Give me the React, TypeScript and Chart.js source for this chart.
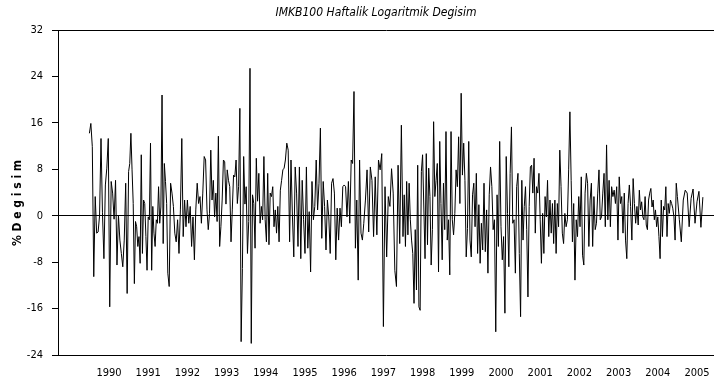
import React, { useEffect, useRef } from "react";
import { Chart, registerables } from "chart.js";

Chart.register(...registerables);

const TITLE = "IMKB100 Haftalik Logaritmik Degisim";
const Y_TITLE = "% D e g i s i m";
const yTicks = [32, 24, 16, 8, 0, -8, -16, -24];
const yearLabels = [1990, 1991, 1992, 1993, 1994, 1995, 1996, 1997, 1998, 1999, 2000, 2001, 2002, 2003, 2004, 2005];

// weekly log changes (%) per year
const w1990 = [14.2, 15.9, 11.9, -10.5, 3.3, -3, -2.8, 0, 13.3, 0.5, -7.4, 5.3, 8.2, 13.3, -15.7, 5.9, 3.9, -0.6, 6.1, -8.5, 0.1, -4.2, -6.5, -8.8, -4.2, 5.6, -13.4];
const w1991 = [7.6, 9.0, 14.2, 7.9, 2.1, -11.7, -1, -1.9, -5.3, -3.6, -8.2, 10.5, -6.5, 2.7, 2.1, -3.6, -9.4, -0.2, -0.7, 12.5, -9.4, 1.6, -3, -5.3, -0.7, -1.3, 5, -1.3, 1.5, 20.8, -4.8, 9, 5.9, 2.1];
const w1992 = [-9.9, -12.2, 5.6, 3.9, 1.6, -3, -4.5, -0.7, -6.5, 1, 13.3, -3.6, 2.7, -1.9, 2.7, -1.3, 1.6, -5.3, -0.2, -7.6, 1, 5.6, 2.1, 3.3, -1.3, 3.9, 10.2, 9.6];
const w1993 = [1, -2.4, 0.4, 11.3, 2.7, 6.1, -0.2, 3.9, -1, 13.7, -5.3, -1.9, 2.7, 9.6, 9.3, 2, 7.9, 6.1, 5, -4.5, 1, 7, 6.7, 9.6, 2.1, 5, 18.5, -21.7, -9.1, 10.2, 2];
const w1994 = [5, -6.5, -1, 25.4, -22, 3.6, 2.1, -5.6, 9.9, 2.5, 7.3, -1.3, 1.6, -0.7, 10.2, -0.7, -4.5, 7.3, -5, 3.9, 3.3, 5, -1.9, 1, -3, 1.6, -4.5, 4.4, 6.1, 7.9, 8.2];
const w1995 = [9.6, 12.5, 11.3, -4.5, 9.6, 0.1, -7.1, 8.4, 3.9, -5.3, 8.4, -7.4, 6.1, -0.7, -6.5, 8.4, -5.6, 0.7, -9.7, 5.9, -0.7, 1.6, 9.6, 1, 5.6, 15.1, -3.9, 5.9];
const w1996 = [1.6, -5.9, 2.7, -0.2, -6.5, 5.6, 6.4, 3.9, -7.6, 1.3, -4.2, 1.3, -1.9, 5, 5.3, 5, -0.2, 5.9, -1.3, 9.6, 9, 21.4, -5.6, 2.7, -11.1, 9.6, -3, -4.2];
const w1997 = [-1.3, 2.7, 7.9, -2.8, 8.4, 6.1, -3.6, 6.7, -3.3, 9.6, 7.9, 10.7, -19.1, 5, -7.1, 3.3, 1.6, 8.1, 3.9, -9.4, -12.2, 8.7, -4.8, 15.6];
const w1998 = [-3.6, 3.6, -5.3, 5.9, -3.3, 5.6, -0.7, -4.2, -6.5, -15.1, -2.4, -12.8, 8.7, -15.7, -16.3, 7.6, 10.5, 1.5, -7.4, 10.7, -5, 8.2, 3.3, -8.5, -2.4, 16.2, 3.3, 6.1, 9, -9.7, 12.8, 2.1];
const w1999 = [-7.6, 5.6, -2.4, 14.5, -4.2, -0.7, -10.2, 14.5, -0.7, -3.3, 0.4, 7.9, 5, 13.6, 2.1, 21.1, 7, 12.5, 6.1, -7.1, -2.2, 12.8, -4.2, -7.1, 3.6, 5.6, -1.9, 7.3, -6.5, 1.9, -8.2];
const w2000 = [-1.3, -5.9, 5.6, -6.2, 1, -9.9, 3.6, 8.4, 5, -2.4, -0.7, -20, 3.6, -5.3, 12.8, -1.9, -7.6, -3.6, -16.8, 10.2, 0.4, -8.8, 7.3, 15.3, -1.3, -0.7, -9.9, 5, 7.3, -6.5];
const w2001 = [-17.4, 6.1, -4.2, 1.6, 5, -2.4, -14, 1.6, 8.4, 8.7, 3.9, 9.9, -3, 5, 3.9, 7.3, -0.7, -8.2, 0.4, -6.5, 3.3, -0.2, 6.1, -3.6, 2.7, -3, 2.1, -4.8, 2.7, -6.5, 2.1, -1.9];
const w2002 = [11.3, 5, -3, -4.8, 0.4, -1.9, -0.7, 7.9, 17.9, 6.1, -4.5, 2.1, -11.1, -0.7, -3.6, 3.3, -1.9, 6.7, -6.8, -8.5, 3.9, 7.3, 5.6, -5.3, 2.7, 5.6, -5.3, 3.3, -2.4, -1.3, 3.9];
const w2003 = [7.9, -0.7, -0.2, 3.9, 7.3, -1.9, 12.2, -0.7, 6.1, -1.9, 5, 3.3, 4.4, 2.1, 5, -4.2, 6.7, 2.1, 3.3, -3, 3.9, -4.2, -7.4, 2.1, 5.3, 1.6, -4.2, 6.4, 2.1, -1.3, 1.6];
const w2004 = [-1.6, 4.4, 1, 2.4, -0.2, -0.7, 3.3, -1.6, -2.4, 2.7, 3.9, 4.7, 1.5, 2.7, -0.7, 1, -1.9, -0.2, -3.6, -7.4, 2.7, -3.6, 1.6, 1, 5, -3.6, 2.1, 0.4, 2.7, 2.1, 1.3, -0.2, -4.2, 5.6];
const w2005 = [3.3, -0.7, -4.5, 2.7, 4.4, 3.9, -1.9, 3, 4.6, -1.3, 2.4, 4.2, -2.0, 3.2];
const LAST_YEAR_SHARE = 0.7; // share of 2005 covered by the series

const years: [number, number[]][] = [
  [1990, w1990], [1991, w1991], [1992, w1992], [1993, w1993], [1994, w1994],
  [1995, w1995], [1996, w1996], [1997, w1997], [1998, w1998], [1999, w1999],
  [2000, w2000], [2001, w2001], [2002, w2002], [2003, w2003], [2004, w2004],
  [2005, w2005],
];

const FONT = "'Liberation Sans Narrow', 'Arial Narrow', 'DejaVu Sans Condensed', 'Liberation Sans', sans-serif";

function buildPoints() {
  const pts: { x: number; y: number }[] = [];
  const lastYear = years[years.length - 1][0];
  for (const [yr, vals] of years) {
    const share = yr === lastYear ? LAST_YEAR_SHARE : 1;
    vals.forEach((v, i) => pts.push({ x: yr + (share * i) / vals.length, y: v }));
  }
  return pts;
}

const textPlugin = {
  id: "texts",
  afterDraw(chart: any) {
    const ctx = chart.ctx;
    ctx.save();
    ctx.fillStyle = "#000";
    ctx.textAlign = "center";
    ctx.textBaseline = "middle";
    ctx.font = `italic 12px ${FONT}`;
    ctx.fillText(TITLE, 376, 13);
    ctx.translate(18, 203);
    ctx.rotate(-Math.PI / 2);
    ctx.font = `bold 12px ${FONT}`;
    ctx.fillText(Y_TITLE, 0, 0);
    ctx.restore();
  },
};

export default function App() {
  const ref = useRef<HTMLCanvasElement | null>(null);
  useEffect(() => {
    if (!ref.current) return;
    const chart = new Chart(ref.current, {
      type: "line",
      data: {
        datasets: [
          {
            data: buildPoints(),
            borderColor: "#000",
            borderWidth: 1,
            pointRadius: 0,
            tension: 0,
            fill: false,
          },
        ],
      },
      options: {
        responsive: false,
        animation: false,
        devicePixelRatio: 1,
        layout: { padding: { top: 30, left: 0, right: 0, bottom: 0 } },
        plugins: { legend: { display: false }, tooltip: { enabled: false }, title: { display: false } },
        scales: {
          x: {
            type: "linear",
            min: 1989.199,
            max: 2005.934,
            afterBuildTicks: (s: any) => {
              s.ticks = yearLabels.map((y) => ({ value: y + 0.5 }));
            },
            afterFit: (s: any) => {
              s.height = 34;
            },
            ticks: {
              callback: (v: any) => String(Math.floor(Number(v))),
              color: "#000",
              font: { family: FONT, size: 11 },
              padding: 0,
              maxRotation: 0,
              autoSkip: false,
            },
            grid: {
              display: true,
              drawOnChartArea: false,
              drawTicks: true,
              tickLength: 12,
              color: "rgba(0,0,0,0)",
              tickColor: "rgba(0,0,0,0)",
            },
            border: { display: true, color: "#000", width: 1 },
          },
          y: {
            min: -24,
            max: 32,
            afterBuildTicks: (s: any) => {
              s.ticks = yTicks.map((v) => ({ value: v }));
            },
            afterFit: (s: any) => {
              s.width = 58;
            },
            ticks: {
              color: "#000",
              font: { family: FONT, size: 11 },
              padding: 9,
            },
            grid: {
              color: (c: any) => (c.tick && (c.tick.value === 0 || c.tick.value === 32) ? "#000" : "rgba(0,0,0,0)"),
              tickColor: "#000",
              tickLength: 6,
              lineWidth: 1,
              drawTicks: true,
            },
            border: { display: true, color: "#000", width: 1 },
          },
        },
      },
      plugins: [textPlugin],
    });
    return () => chart.destroy();
  }, []);
  return (
    <div style={{ position: "absolute", left: 0, top: 0, width: 714, height: 389, background: "#fff" }}>
      <canvas ref={ref} width={714} height={389} style={{ display: "block" }} />
    </div>
  );
}
